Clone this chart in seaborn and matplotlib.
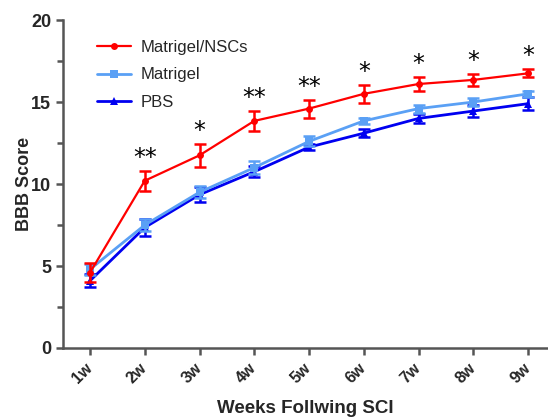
import pandas as pd
import seaborn as sns
import matplotlib.pyplot as plt
from matplotlib.ticker import MultipleLocator

weeks = ["1w", "2w", "3w", "4w", "5w", "6w", "7w", "8w", "9w"]

nsc_mean = [4.6, 10.2, 11.75, 13.85, 14.6, 15.5, 16.1, 16.35, 16.75]
nsc_err = [0.6, 0.6, 0.7, 0.6, 0.55, 0.55, 0.45, 0.35, 0.25]
mat_mean = [4.8, 7.5, 9.5, 11.0, 12.6, 13.85, 14.6, 15.0, 15.5]
mat_err = [0.35, 0.35, 0.35, 0.4, 0.3, 0.2, 0.25, 0.25, 0.2]
pbs_mean = [4.1, 7.35, 9.35, 10.75, 12.25, 13.1, 14.0, 14.45, 14.9]
pbs_err = [0.4, 0.5, 0.45, 0.35, 0.2, 0.25, 0.3, 0.35, 0.4]

stars = ["", "**", "*", "**", "**", "*", "*", "*", "*"]

groups = [
    ("Matrigel/NSCs", nsc_mean, nsc_err, "#ff0000", "o", 5, 1.6),
    ("Matrigel", mat_mean, mat_err, "#5aa0f5", "s", 5.5, 2.0),
    ("PBS", pbs_mean, pbs_err, "#0000f0", "^", 5.5, 2.0),
]

sns.set_style("ticks")
plt.rcParams["font.family"] = ["Liberation Sans", "DejaVu Sans"]

fig = plt.figure(figsize=(5.48, 4.18), dpi=100)
ax = fig.add_axes([0.115, 0.1675, 0.885, 0.7845])

rows = []
for name, mean, err, color, marker, ms, lw in groups:
    for w, m in zip(weeks, mean):
        rows.append({"week": w, "score": m, "group": name})
df = pd.DataFrame(rows)
df["pos"] = df["week"].map({w: i for i, w in enumerate(weeks)})

# draw back to front so red sits on top
for name, mean, err, color, marker, ms, lw in reversed(groups):
    sub = df[df["group"] == name]
    sns.lineplot(data=sub, x="pos", y="score", color=color, marker=marker,
                 markersize=ms, markeredgewidth=0, linewidth=lw, ax=ax,
                 label=name, legend=False)
    ax.errorbar(range(len(weeks)), mean, yerr=err, fmt="none", ecolor=color,
                elinewidth=1.8, capsize=4, capthick=1.8)

for i, s in enumerate(stars):
    if s:
        ax.text(i, nsc_mean[i] + nsc_err[i] + 0.05, s, ha="center",
                va="bottom", fontsize=17, color="black",
                family=["DejaVu Sans"])

handles, labels = ax.get_legend_handles_labels()
order = [labels.index(g[0]) for g in groups]
ax.legend([handles[i] for i in order], [labels[i] for i in order],
          loc="upper left", bbox_to_anchor=(0.04, 0.985), frameon=False,
          fontsize=12, labelspacing=0.75, handlelength=2.0, handletextpad=0.6)

ax.set_xlim(-0.493, 8.365)
ax.set_ylim(0, 20)
ax.set_xticks(range(len(weeks)))
ax.set_xticklabels(weeks, rotation=45, rotation_mode="anchor", ha="right",
                   va="center", fontweight="bold", fontsize=11.5)
ax.yaxis.set_major_locator(MultipleLocator(5))
ax.yaxis.set_minor_locator(MultipleLocator(2.5))
for lab in ax.get_yticklabels():
    lab.set_fontweight("bold")
    lab.set_fontsize(13)

ax.set_xlabel("Weeks Follwing SCI", fontweight="bold", fontsize=13.5)
ax.set_ylabel("BBB Score", fontweight="bold", fontsize=13)
ax.xaxis.set_label_coords(0.5, -0.158)
ax.yaxis.set_label_coords(-0.062, 0.5)

sns.despine(ax=ax)
for sp in ["left", "bottom"]:
    ax.spines[sp].set_color("#555555")
    ax.spines[sp].set_linewidth(1.8)
ax.tick_params(which="both", color="#555555", width=1.8, length=5)
ax.tick_params(which="minor", length=4)
ax.tick_params(axis="x", pad=8)

fig.savefig("out.png", dpi=100)
